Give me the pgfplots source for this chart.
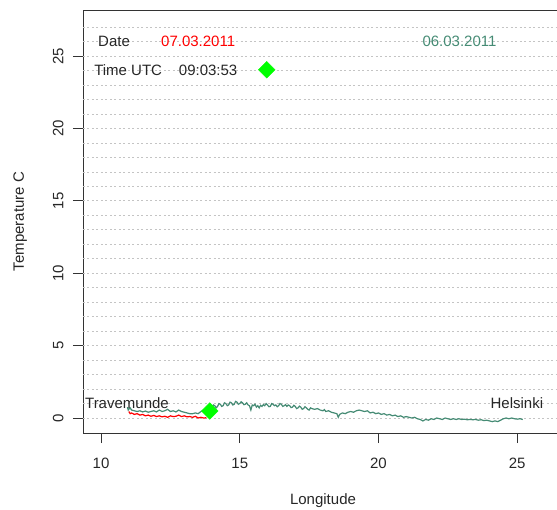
\documentclass[border=0pt]{standalone}
\usepackage{pgfplots}
\pgfplotsset{compat=1.18}
\usepackage{fontspec}
\setmainfont{Liberation Sans}
\definecolor{sea}{HTML}{458B74}
\definecolor{brightgreen}{HTML}{00FF00}
\definecolor{gridgray}{HTML}{C4C4C4}
\newcommand{\F}{\fontsize{15bp}{18bp}\selectfont}
\begin{document}
\begin{tikzpicture}
\path[use as bounding box] (-83bp,-77bp) rectangle (474bp,433bp);
\begin{axis}[
  at={(0,0)}, anchor=south west,
  scale only axis,
  width=480bp, height=423bp,
  xmin=9.35, xmax=26.65,
  ymin=-1.035, ymax=28.18,
  axis line style={black!80, line width=0.8bp},
  xtick={10,15,20,25}, ytick={0,5,10,15,20,25},
  xtick pos=bottom, ytick pos=left,
  tick align=outside, major tick length=10bp,
  tick style={black!80, line width=0.8bp},
  /pgf/number format/assume math mode=true,
  ticklabel style={font=\F, text=black!85},
  xticklabel style={yshift=-12bp},
  yticklabel style={rotate=90, anchor=south, yshift=6bp},
  xlabel={Longitude}, ylabel={Temperature C},
  label style={font=\F, text=black!85},
  xlabel style={yshift=-18bp},
  ylabel style={yshift=19bp},
  clip=false,
]
% grid lines
\pgfplotsinvokeforeach{0,...,27}{
  \addplot[gridgray, line width=0.7bp, dash pattern=on 2bp off 2.5bp, forget plot] coordinates {(9.35,#1) (26.65,#1)};
}
\addplot[sea, line width=1.2bp] coordinates {
(10.95,0.75) (10.98,0.55) (11.0,0.6) (11.05,0.7) (11.1,0.55) (11.2,0.5) (11.3,0.45) (11.4,0.5) (11.5,0.42) (11.6,0.48) (11.7,0.4)
(11.8,0.45) (11.9,0.5) (12.0,0.42) (12.1,0.55) (12.2,0.45) (12.3,0.5) (12.4,0.6) (12.5,0.45) (12.6,0.5) (12.7,0.42)
(12.8,0.55) (12.9,0.45) (13.0,0.4) (13.1,0.35) (13.2,0.3) (13.3,0.3) (13.4,0.35) (13.5,0.3) (13.6,0.45) (13.7,0.55)
(13.8,0.6) (13.9,0.55) (14.0,0.7) (14.05,0.9) (14.1,0.85) (14.15,0.7) (14.2,0.8) (14.25,1.0) (14.3,0.95) (14.35,0.8) (14.4,0.85) (14.45,1.05) (14.5,1.0) (14.55,0.85) (14.6,0.9) (14.65,1.1) (14.7,1.05)
(14.75,0.9) (14.8,0.95) (14.85,1.15) (14.9,1.1) (14.95,0.95) (15.0,1.0) (15.05,1.12) (15.1,1.05) (15.15,0.92) (15.2,0.95) (15.25,1.05) (15.3,0.9) (15.35,0.85) (15.4,0.55) (15.45,0.9) (15.5,0.85) (15.55,0.95) (15.6,0.75)
(15.65,0.85) (15.7,0.7) (15.75,0.88) (15.8,0.8) (15.85,0.92) (15.9,0.85) (15.95,1.0) (16.0,0.9) (16.05,0.78) (16.1,0.8) (16.15,1.0) (16.2,0.95) (16.25,0.85) (16.3,0.9) (16.35,0.78) (16.4,0.85) (16.45,1.0) (16.5,0.95) (16.55,0.8) (16.6,0.85)
(16.65,0.92) (16.7,0.8) (16.75,0.9) (16.8,0.85) (16.85,0.72) (16.9,0.75) (16.95,0.88) (17.0,0.8) (17.05,0.65) (17.1,0.7) (17.15,0.82) (17.2,0.75) (17.25,0.6) (17.3,0.65) (17.35,0.78) (17.4,0.7) (17.45,0.6) (17.5,0.55) (17.55,0.7) (17.6,0.65)
(17.7,0.6) (17.8,0.65) (17.9,0.55) (18.0,0.5) (18.05,0.58) (18.1,0.45) (18.2,0.5) (18.3,0.4) (18.4,0.35) (18.5,0.3) (18.55,0.05)
(18.6,0.25) (18.7,0.35) (18.8,0.3) (18.9,0.4) (19.0,0.45) (19.1,0.4) (19.2,0.5) (19.3,0.55) (19.4,0.5) (19.5,0.45)
(19.6,0.5) (19.7,0.35) (19.8,0.4) (19.9,0.3) (20.0,0.35) (20.1,0.25) (20.2,0.3) (20.3,0.2) (20.4,0.25) (20.5,0.15)
(20.6,0.2) (20.7,0.1) (20.8,0.15) (20.9,0.05) (21.0,0.1) (21.1,0.05) (21.2,0.0) (21.3,0.05) (21.4,-0.05) (21.5,-0.1)
(21.6,-0.2) (21.7,-0.1) (21.8,-0.15) (21.9,-0.05) (22.0,-0.1) (22.1,0.0) (22.2,-0.05) (22.3,-0.1) (22.4,0.0) (22.5,-0.05)
(22.6,-0.1) (22.7,-0.05) (22.8,-0.1) (22.9,-0.05) (23.0,-0.1) (23.1,-0.08) (23.2,-0.12) (23.3,-0.1) (23.4,-0.12) (23.5,-0.1)
(23.6,-0.15) (23.7,-0.12) (23.8,-0.18) (23.9,-0.15) (24.0,-0.2) (24.1,-0.25) (24.2,-0.2) (24.3,-0.25) (24.4,-0.15) (24.5,-0.05)
(24.6,0.0) (24.7,-0.05) (24.8,0.0) (24.9,-0.05) (25.0,-0.08) (25.1,-0.05) (25.2,-0.1)
};
\addplot[red, line width=1.2bp] coordinates {
(11.0,0.45) (11.05,0.3) (11.1,0.35) (11.2,0.25) (11.3,0.3) (11.4,0.2) (11.5,0.25) (11.6,0.15) (11.7,0.2) (11.8,0.12)
(11.9,0.18) (12.0,0.1) (12.1,0.15) (12.2,0.08) (12.3,0.12) (12.4,0.05) (12.5,0.15) (12.6,0.1) (12.7,0.12) (12.8,0.2)
(12.9,0.1) (13.0,0.15) (13.1,0.08) (13.2,0.1) (13.3,0.05) (13.4,0.12) (13.5,0.0) (13.6,0.05) (13.7,0.0) (13.8,0.02)
};
\addplot[only marks, mark=square*, mark size=5.9bp, brightgreen, mark options={rotate=45, fill=brightgreen, draw=brightgreen}] coordinates {(13.92,0.48) (15.97,24.05)};
% texts
\node[anchor=base west, inner sep=0, font=\F, text=black!85] at (axis cs:9.89,25.65) {Date};
\node[anchor=base west, inner sep=0, font=\F, text=red] at (axis cs:12.16,25.65) {07.03.2011};
\node[anchor=base west, inner sep=0, font=\F, text=sea] at (axis cs:21.58,25.65) {06.03.2011};
\node[anchor=base west, inner sep=0, font=\F, text=black!85] at (axis cs:9.75,23.66) {Time UTC};
\node[anchor=base west, inner sep=0, font=\F, text=black!85] at (axis cs:12.8,23.66) {09:03:53};
\node[anchor=base west, inner sep=0, font=\F, text=black!85] at (axis cs:9.42,0.65) {Travemunde};
\node[anchor=base east, inner sep=0, font=\F, text=black!85] at (axis cs:25.94,0.65) {Helsinki};
\end{axis}
\end{tikzpicture}
\end{document}
